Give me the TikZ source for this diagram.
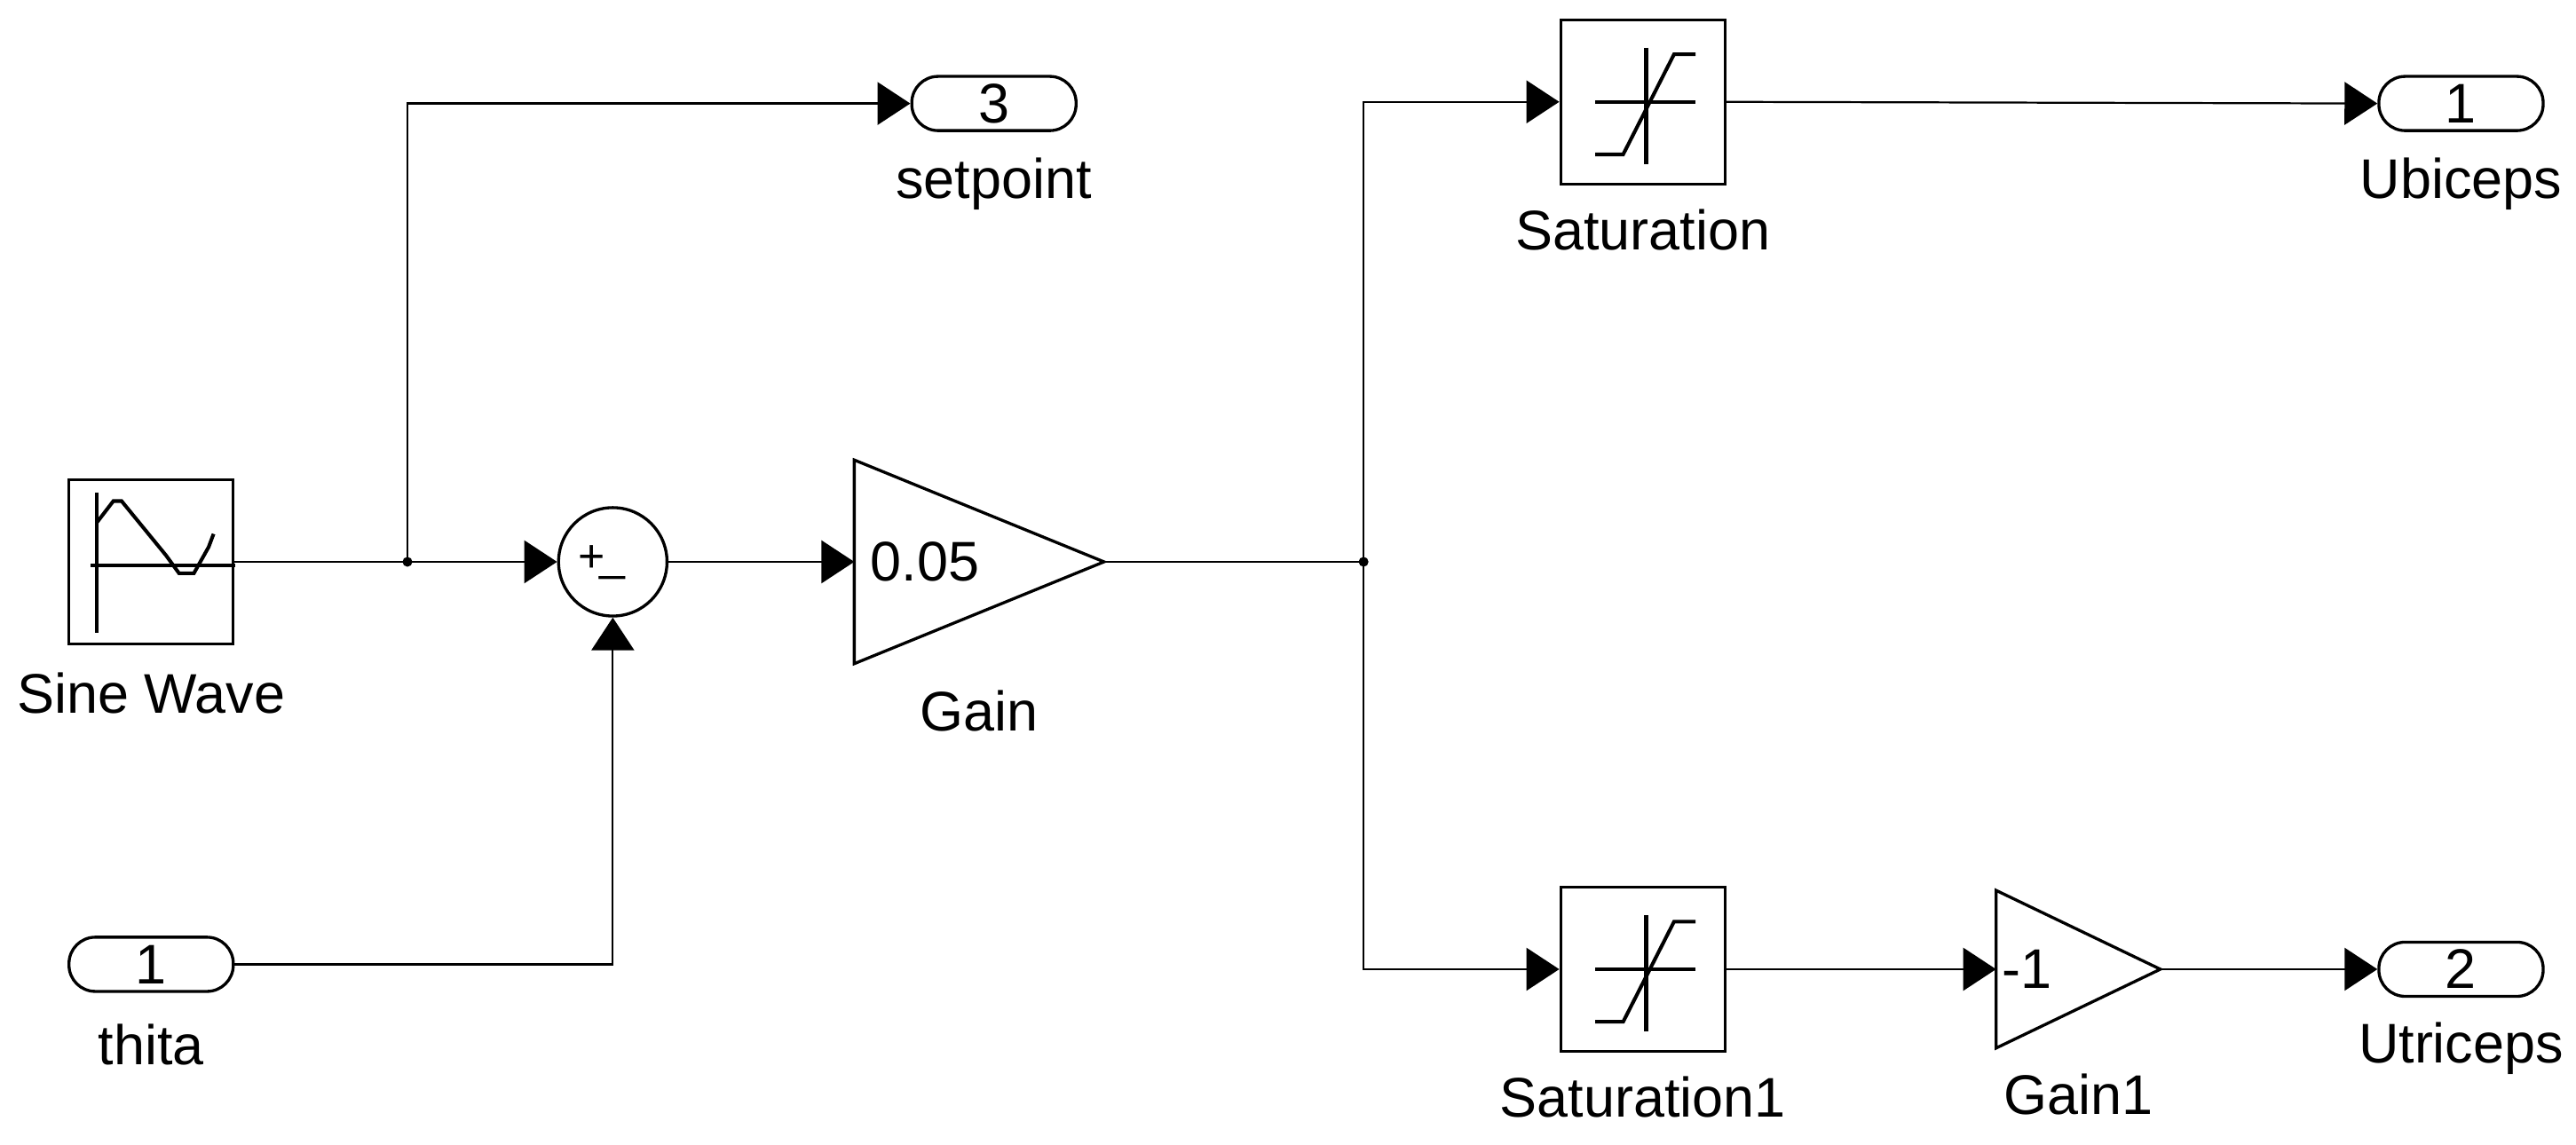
\documentclass[tikz,border=0pt]{standalone}
\usepackage{fontspec}
\setmainfont{Liberation Sans}
\usetikzlibrary{arrows.meta}

\tikzset{
  blk/.style={draw, line width=0.9pt, minimum size=50pt, inner sep=0pt},
  port/.style={draw, line width=0.9pt, rounded corners=8pt, minimum width=50pt, minimum height=16.5pt, inner sep=0pt},
  lbl/.style={font=\fontsize{17}{20}\selectfont},
  sig/.style={-{Triangle[length=10pt,width=13pt]}, line width=0.6pt},
  icon/.style={line width=1.1pt}
}

\begin{document}
\begin{tikzpicture}[x=0.5pt, y=-0.5pt, lbl]
\useasboundingbox (0,0) rectangle (1568,697);

% blocks
\path (92,342) node[blk] (sine) {}
      (92,587) node[port] (thita) {1}
      (605,63) node[port] (sp) {3}
      (373,342) node[draw, circle, line width=0.9pt, minimum size=33pt, inner sep=0pt] (sum) {}
      (1000,62) node[blk] (sat) {}
      (1000,590) node[blk] (sat1) {}
      (1498,63) node[port] (ub) {1}
      (1498,590) node[port] (ut) {2};

% labels
\path (92,422) node (l-sine) {Sine Wave}
      (92,636) node (l-thita) {thita}
      (605,112) node (l-sp) {setpoint}
      (596,433) node (l-gain) {Gain}
      (1000,140) node (l-sat) {Saturation}
      (1000,668) node (l-sat1) {Saturation1}
      (1265,666) node (l-gain1) {Gain1}
      (1498,112) node (l-ub) {Ubiceps}
      (1498,638) node (l-ut) {Utriceps};

% gains
\draw[line width=0.9pt] (520,280) -- (672,342) -- (520,404) -- cycle;
\coordinate (gain-in) at (520,342);
\coordinate (gain-out) at (672,342);
\node (k) at (563,342) {0.05};
\draw[line width=0.9pt] (1215,542) -- (1315,590) -- (1215,638) -- cycle;
\coordinate (gain1-in) at (1215,590);
\coordinate (gain1-out) at (1315,590);
\node (k1) at (1234,590) {-1};

% sum signs
\node[font=\fontsize{14}{14}\selectfont] (plus) at (360,340) {+};
\node[font=\fontsize{14}{14}\selectfont] (minus) at (373,350) {\_};

% icons
\draw[icon] (59,300) -- (59,385) (55,344) -- (143,344);
\draw[icon] (59,318) -- (69,305) -- (74,305) -- (101,338) -- (109,349) -- (118,349) -- (127,333) -- (130,325);
\foreach \c in {sat, sat1} {
  \begin{scope}[shift={(\c.center)}]
    \draw[icon] (-29,0) -- (32,0) (2,-33) -- (2,38);
    \draw[icon] (-29,32) -- (-12,32) -- (19,-29) -- (32,-29);
  \end{scope}
}

% junctions
\coordinate (j1) at (248,342);
\coordinate (j2) at (830,342);
\fill (j1) circle (3);
\fill (j2) circle (3);

% signals
\draw[line width=0.6pt] (sine.east) -- (j1);
\draw[sig] (j1) |- (sp.west);
\draw[sig] (j1) -- (sum.west);
\draw[sig] (thita.east) -| (sum.south);
\draw[sig] (sum.east) -- (gain-in);
\draw[line width=0.6pt] (gain-out) -- (j2);
\draw[sig] (j2) |- (sat.west);
\draw[sig] (j2) |- (sat1.west);
\draw[sig] (sat.east) -- (ub.west);
\draw[sig] (sat1.east) -- (gain1-in);
\draw[sig] (gain1-out) -- (ut.west);

\end{tikzpicture}
\end{document}
